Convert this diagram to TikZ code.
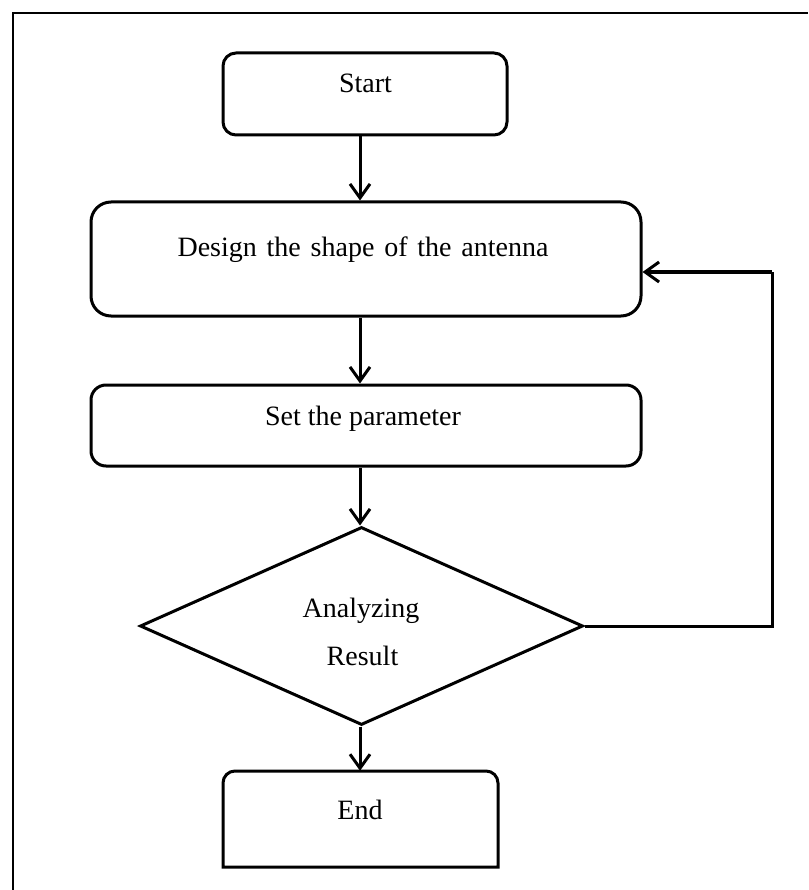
\documentclass[tikz,border=0pt]{standalone}
\usepackage{fontspec}
\setmainfont{Liberation Serif}
\usetikzlibrary{arrows.meta,shapes.geometric,calc}
\tikzset{
  boxline/.style={draw=black, line width=3pt},
  rbox/.style={boxline, rectangle, inner sep=0pt},
  lbl/.style={anchor=base, inner sep=0pt, font=\fontsize{28pt}{32pt}\selectfont},
  arr/.style={line width=3pt, -{Straight Barb[length=14pt,width=20pt,line width=3pt]}},
  frame/.style={line width=2pt}
}
\begin{document}
\begin{tikzpicture}[x=1pt,y=-1pt]
\useasboundingbox (0,0) rectangle (808,890);
\fill[white] (0,0) rectangle (808,890);
% partial frame
\draw[frame] (13,890) -- (13,13) -- (808,13);

% boxes
\node[rbox, rounded corners=13pt, minimum width=284pt, minimum height=82pt] (start) at (365,94) {};
\node[rbox, rounded corners=20pt, minimum width=550pt, minimum height=114pt] (design) at (366,259) {};
\node[rbox, rounded corners=15pt, minimum width=550pt, minimum height=81pt] (setp) at (366,425.5) {};
\node[boxline, diamond, inner sep=0pt, minimum width=443pt, minimum height=198pt, aspect=2.24] (dec) at (361.5,626) {};
\node[inner sep=0pt, minimum width=275pt, minimum height=96pt] (end) at (360.5,819) {};
\draw[boxline] (223,867) -- (223,783) arc[start angle=180, end angle=270, radius=12]
  -- (486,771) arc[start angle=270, end angle=360, radius=12] -- (498,867) -- cycle;

% labels
\node[lbl] (tstart) at (365.5,93) {Start};
\node[lbl] (tdesign) at (363,257) {Design\hspace{0.35em}the\hspace{0.35em}shape\hspace{0.35em}of\hspace{0.35em}the\hspace{0.35em}antenna};
\node[lbl] (tset) at (363,425) {Set the parameter};
\node[lbl] (tan) at (361,617) {Analyzing};
\node[lbl] (tres) at (362.5,665) {Result};
\node[lbl] (tend) at (360,819) {End};

% connectors
\coordinate (ax) at (360,0);
\draw[arr] (start.south -| ax) -- (design.north -| ax);
\draw[arr] (design.south -| ax) -- (setp.north -| ax);
\draw[arr] (setp.south -| ax) -- (dec.north -| ax);
\draw[arr] (dec.south -| ax) -- (end.north -| ax);
\coordinate (loop) at (772,272);
\draw[line width=3pt] (dec.east) -| (loop);
\draw[arr] (loop) -- (loop -| design.east);
\end{tikzpicture}
\end{document}
